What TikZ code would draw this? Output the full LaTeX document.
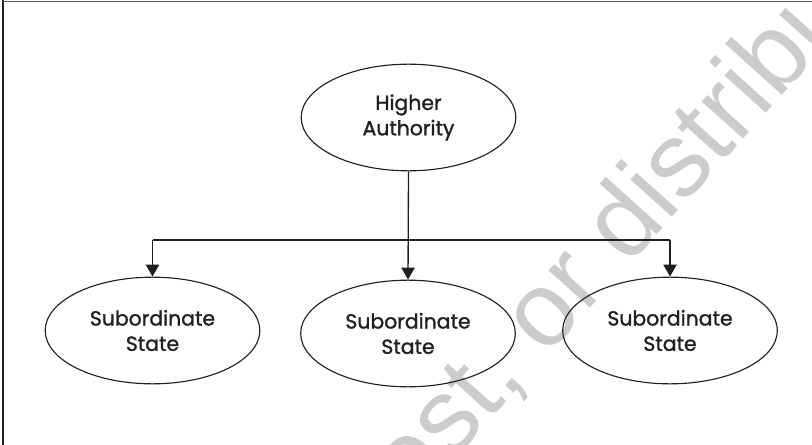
\documentclass[tikz,border=0pt]{standalone}
\usepackage{fontspec}
\setmainfont{Poppins}[FakeBold=1.3]
\newfontfamily\wmfont{Liberation Sans}
\usetikzlibrary{arrows.meta,shapes.geometric}
\definecolor{wmgray}{RGB}{204,204,204}
\definecolor{ink}{RGB}{35,31,32}
\tikzset{
  oval/.style={draw=ink, ellipse, line width=0.85pt, minimum width=161pt, minimum height=80pt,
    inner sep=0pt, align=center, font=\fontsize{15.3}{19}\selectfont, text=ink},
  link/.style={draw=ink, line width=1pt},
  arr/.style={link, -{Triangle[length=9pt,width=10pt]}},
  wmark/.style={text=wmgray, font=\wmfont\fontsize{79}{79}\selectfont, rotate=48, inner sep=0pt}
}
\begin{document}
\begin{tikzpicture}[x=0.75pt,y=-0.75pt]
\useasboundingbox (0,0) rectangle (812,445);
\begin{scope}
\clip (0,0) rectangle (812,445);
\node[wmark, anchor=base west] (wm1) at (452,462) {st, or distribute};
\node[wmark, anchor=base east] (wm2) at (452,462) {copy, po};
\end{scope}
\draw[ink, line width=1.5pt] (2.5,0) -- (2.5,445);
\draw[black!65, line width=1pt] (2,1.5) -- (812,1.5);
\node[oval] (ha) at (408.5,117.5) {Higher\\Authority};
\node[oval] (s1) at (152.5,330.5) {Subordinate\\State};
\node[oval] (s2) at (408,333.5) {Subordinate\\State};
\node[oval] (s3) at (670,330.5) {Subordinate\\State};
\coordinate (busl) at (152.5,240);
\coordinate (busr) at (670,240);
\draw[arr] (ha.south) -- (s2.north);
\draw[link] (busl) -- (busr);
\draw[arr] (busl) -- (s1.north);
\draw[arr] (busr) -- (s3.north);
\end{tikzpicture}
\end{document}
